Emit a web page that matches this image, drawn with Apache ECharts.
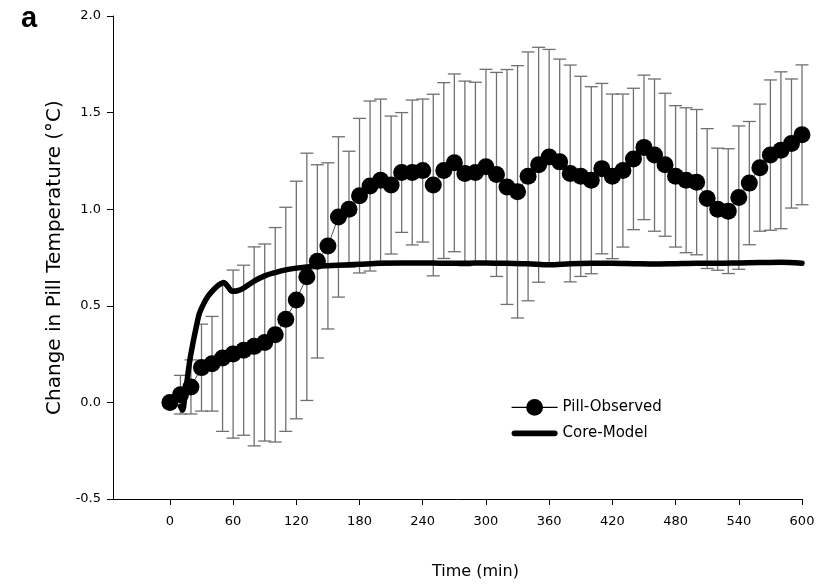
<!DOCTYPE html>
<html>
<head>
<meta charset="utf-8">
<script src="https://cdn.jsdelivr.net/npm/echarts@6/dist/echarts.min.js"></script>
<style>
  html, body { margin: 0; padding: 0; background: #ffffff; }
  #chart { width: 819px; height: 587px; }
</style>
</head>
<body>
<div id="chart"></div>
<script>
// Sampling times of the pill readings (min)
const timeMin = [
  0, 10, 20, 30, 40, 50, 60, 70, 80, 90,
  100, 110, 120, 130, 140, 150, 160, 170, 180, 190,
  200, 210, 220, 230, 240, 250, 260, 270, 280, 290,
  300, 310, 320, 330, 340, 350, 360, 370, 380, 390,
  400, 410, 420, 430, 440, 450, 460, 470, 480, 490,
  500, 510, 520, 530, 540, 550, 560, 570, 580, 590, 600
];
// Mean change in pill temperature (°C)
const pillMean = [
  0.00, 0.04, 0.08, 0.18, 0.20, 0.23, 0.25, 0.27, 0.29, 0.31,
  0.35, 0.43, 0.53, 0.65, 0.73, 0.81, 0.96, 1.00, 1.07, 1.12,
  1.15, 1.125, 1.19, 1.19, 1.20, 1.125, 1.20, 1.24, 1.185, 1.19,
  1.22, 1.18, 1.115, 1.09, 1.17, 1.23, 1.27, 1.245, 1.185, 1.17,
  1.15, 1.21, 1.17, 1.20, 1.26, 1.32, 1.28, 1.23, 1.17, 1.15,
  1.14, 1.055, 1.00, 0.99, 1.06, 1.135, 1.215, 1.28, 1.305, 1.34, 1.385
];
// Standard deviation of the pill readings (°C)
const pillSD = [
  0.00, 0.10, 0.14, 0.225, 0.245, 0.38, 0.435, 0.44, 0.515, 0.51,
  0.555, 0.58, 0.615, 0.64, 0.50, 0.43, 0.415, 0.30, 0.40, 0.44,
  0.42, 0.357, 0.31, 0.375, 0.37, 0.47, 0.455, 0.46, 0.478, 0.467,
  0.504, 0.528, 0.608, 0.653, 0.644, 0.608, 0.557, 0.532, 0.561, 0.518,
  0.484, 0.441, 0.426, 0.396, 0.366, 0.374, 0.394, 0.37, 0.366, 0.375,
  0.376, 0.362, 0.316, 0.323, 0.371, 0.319, 0.329, 0.389, 0.406, 0.334, 0.362
];
// Core temperature model curve
const modelTime = [
  10, 12, 14, 16, 19, 22, 25, 28, 32, 36, 40, 44, 48, 51, 55, 59, 64, 70,
  80, 90, 100, 110, 120, 140, 160, 180, 200, 220, 240, 260, 280, 300,
  320, 340, 360, 380, 400, 420, 440, 460, 480, 500, 520, 540, 560, 580, 600
];
const modelValue = [
  -0.02, -0.04, 0.02, 0.10, 0.22, 0.31, 0.39, 0.46, 0.51, 0.548, 0.575, 0.597, 0.613, 0.62, 0.60, 0.575, 0.578, 0.592,
  0.628, 0.655, 0.672, 0.686, 0.695, 0.705, 0.71, 0.715, 0.72, 0.722, 0.722, 0.72, 0.72, 0.722,
  0.72, 0.718, 0.712, 0.718, 0.72, 0.72, 0.718, 0.716, 0.718, 0.72, 0.72, 0.722, 0.724, 0.725, 0.72
];
// Axis ticks
const xTicks = [0, 60, 120, 180, 240, 300, 360, 420, 480, 540, 600];
const yMin = -0.5, yMax = 2.0, yStep = 0.5;
const xMin = -54, xMax = 600;

const FONT = 'DejaVu Sans';

const chart = echarts.init(document.getElementById('chart'), null, { renderer: 'canvas' });

const observed = timeMin.map((t, i) => [t, pillMean[i]]);
const errorData = timeMin.map((t, i) => [t, pillMean[i] - pillSD[i], pillMean[i] + pillSD[i]]);
const model = modelTime.map((t, i) => [t, modelValue[i]]);

// Vertical SD whisker with caps at both ends
function renderErrorBar(params, api) {
  const x = api.value(0);
  const lo = api.coord([x, api.value(1)]);
  const hi = api.coord([x, api.value(2)]);
  const half = 6.5;
  const style = { stroke: '#707070', lineWidth: 1.3, fill: null };
  return {
    type: 'group',
    children: [
      { type: 'line', shape: { x1: lo[0], y1: lo[1], x2: hi[0], y2: hi[1] }, style },
      { type: 'line', shape: { x1: lo[0] - half, y1: lo[1], x2: lo[0] + half, y2: lo[1] }, style },
      { type: 'line', shape: { x1: hi[0] - half, y1: hi[1], x2: hi[0] + half, y2: hi[1] }, style }
    ]
  };
}

chart.setOption({
  backgroundColor: '#ffffff',
  animation: false,
  title: {
    text: 'a',
    left: 16,
    top: -1,
    textStyle: { fontFamily: 'Liberation Sans', fontWeight: 'bold', fontSize: 29, color: '#000' }
  },
  grid: { left: 113, right: 17, top: 16, bottom: 88, outerBoundsMode: 'none' },
  legend: {
    orient: 'vertical',
    left: 506,
    top: 394,
    itemWidth: 46,
    itemHeight: 21,
    itemGap: 10,
    itemStyle: { borderWidth: 0 },
    textStyle: { fontFamily: FONT, fontSize: 15, color: '#000' },
    data: [
      { name: 'Pill-Observed', lineStyle: { width: 1.2, color: '#000' } },
      {
        name: 'Core-Model',
        icon: 'path://M3,0 L45,0 A3,3 0 0 1 45,6 L3,6 A3,3 0 0 1 3,0 Z',
        itemStyle: { color: '#000' }
      }
    ]
  },
  xAxis: {
    type: 'value',
    min: xMin,
    max: xMax,
    axisLine: { show: true, onZero: false, lineStyle: { color: '#000', width: 1 } },
    axisTick: { show: true, customValues: xTicks, length: 6, lineStyle: { color: '#000', width: 1 } },
    axisLabel: { customValues: xTicks, margin: 16, fontFamily: FONT, fontSize: 13, color: '#000' },
    splitLine: { show: false },
    name: 'Time (min)',
    nameLocation: 'middle',
    nameGap: 65,
    nameTextStyle: { fontFamily: FONT, fontSize: 16, color: '#000', padding: [0, 0, 0, 36] }
  },
  yAxis: {
    type: 'value',
    min: yMin,
    max: yMax,
    interval: yStep,
    axisLine: { show: true, onZero: false, lineStyle: { color: '#000', width: 1 } },
    axisTick: { show: true, length: 6, lineStyle: { color: '#000', width: 1 } },
    axisLabel: {
      margin: 12,
      fontFamily: FONT,
      fontSize: 13,
      color: '#000',
      formatter: v => v.toFixed(1)
    },
    splitLine: { show: false },
    name: 'Change in Pill Temperature (°C)',
    nameLocation: 'middle',
    nameRotate: 90,
    nameGap: 40,
    nameTextStyle: { fontFamily: FONT, fontSize: 20, color: '#000' }
  },
  series: [
    {
      name: 'Pill-Observed SD',
      type: 'custom',
      data: errorData,
      renderItem: renderErrorBar,
      encode: { x: 0, y: [1, 2] },
      silent: true,
      z: 1
    },
    {
      name: 'Core-Model',
      type: 'line',
      data: model,
      symbol: 'none',
      smooth: 0.3,
      lineStyle: { color: '#000', width: 5.5, cap: 'round', join: 'round' },
      itemStyle: { color: '#000' },
      z: 2
    },
    {
      name: 'Pill-Observed',
      type: 'line',
      data: observed,
      symbol: 'circle',
      symbolSize: 17,
      lineStyle: { color: '#555', width: 1 },
      itemStyle: { color: '#000', borderWidth: 0 },
      z: 3
    }
  ]
});
</script>
</body>
</html>
